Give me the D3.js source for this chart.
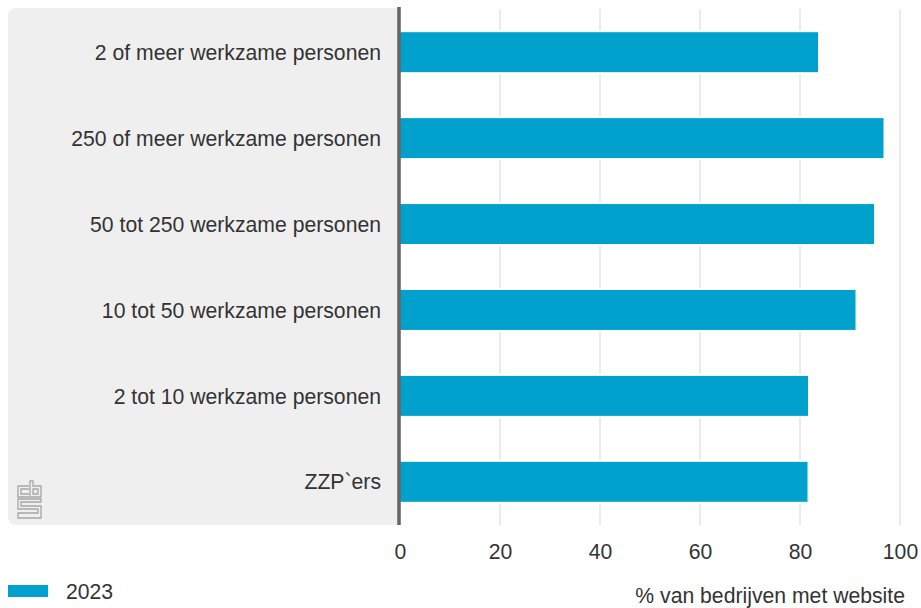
<!DOCTYPE html>
<html>
<head>
<meta charset="utf-8">
<script src="https://cdn.jsdelivr.net/npm/d3@7"></script>
<style>
  html, body { margin: 0; padding: 0; background: #fff; }
  svg { display: block; font-family: "Liberation Sans", Arial, sans-serif; }
</style>
</head>
<body>
<svg id="chart" width="921" height="608"></svg>
<script>
// Share of companies with a website, by company size (2023)
const categories = [
  "2 of meer werkzame personen",
  "250 of meer werkzame personen",
  "50 tot 250 werkzame personen",
  "10 tot 50 werkzame personen",
  "2 tot 10 werkzame personen",
  "ZZP`ers"
];
const values2023 = [83.6, 96.7, 94.8, 91.1, 81.6, 81.5];
const xTicks = [0, 20, 40, 60, 80, 100];
const seriesName = "2023";
const axisTitle = "% van bedrijven met website";

const svg = d3.select("#chart");
const plot = { left: 400, right: 900, top: 9, bottom: 525 };
const fontSize = 21.2;

const x = d3.scaleLinear().domain([0, 100]).range([plot.left, plot.right]);
const y = d3.scaleBand().domain(categories).range([plot.top, plot.bottom]).paddingInner(0.535).paddingOuter(0.27);

// label panel
svg.append("rect")
  .attr("x", 8).attr("y", 8)
  .attr("width", plot.left - 8 + 6).attr("height", plot.bottom - 8)
  .attr("rx", 8).attr("ry", 8)
  .attr("fill", "#efefef");

// gridlines
svg.append("g").selectAll("line").data(xTicks.filter(d => d > 0)).join("line")
  .attr("x1", d => x(d)).attr("x2", d => x(d))
  .attr("y1", plot.top).attr("y2", plot.bottom)
  .attr("stroke", "#ebebeb").attr("stroke-width", 2);

// white area right of the panel edge so the panel ends at the axis
svg.append("rect")
  .attr("x", plot.left + 1).attr("y", 7)
  .attr("width", 7).attr("height", plot.bottom - 6)
  .attr("fill", "#fff");

// bars
svg.append("g").selectAll("rect").data(categories).join("rect")
  .attr("x", x(0))
  .attr("y", d => y(d))
  .attr("width", (d, i) => x(values2023[i]) - x(0))
  .attr("height", y.bandwidth())
  .attr("fill", "#00a1cd")
  .attr("stroke", "#fff")
  .attr("stroke-width", 4)
  .style("paint-order", "stroke");

// zero axis line
svg.append("line")
  .attr("x1", x(0) - 1).attr("x2", x(0) - 1)
  .attr("y1", 7).attr("y2", plot.bottom)
  .attr("stroke", "#666").attr("stroke-width", 3.5);

// category labels
svg.append("g").selectAll("text").data(categories).join("text")
  .attr("x", 381)
  .attr("y", d => y(d) + y.bandwidth() / 2)
  .attr("dy", "0.36em")
  .attr("text-anchor", "end")
  .attr("font-size", fontSize)
  .attr("fill", "#333")
  .text(d => d);

// x axis tick labels
const xAxis = d3.axisBottom(x).tickValues(xTicks).tickSize(0).tickPadding(0).tickFormat(d3.format("d"));
const gx = svg.append("g").attr("transform", `translate(0, 559)`).call(xAxis);
gx.select(".domain").remove();
gx.selectAll("text")
  .attr("y", 0).attr("dy", 0)
  .attr("font-size", fontSize)
  .attr("font-family", "Liberation Sans, Arial, sans-serif")
  .attr("fill", "#333");

// axis title
svg.append("text")
  .attr("x", 905).attr("y", 603)
  .attr("text-anchor", "end")
  .attr("font-size", fontSize)
  .attr("fill", "#333")
  .text(axisTitle);

// legend
svg.append("rect")
  .attr("x", 8).attr("y", 585)
  .attr("width", 40).attr("height", 12)
  .attr("fill", "#00a1cd");
svg.append("text")
  .attr("x", 66).attr("y", 599)
  .attr("font-size", fontSize)
  .attr("fill", "#333")
  .text(seriesName);

// cbs logo (outlined letters)
const logo = svg.append("g")
  .attr("fill", "none")
  .attr("stroke", "#a6a6a6")
  .attr("stroke-width", 1.3);
// "c"
logo.append("path").attr("d", "M29,486 H18 V497 H29 M29,489 H21 V494 H29");
// "b"
logo.append("path").attr("d", "M30,481 V497 H41 V486 H33 V481 Z M33,489 H38 V494 H33 Z");
// "s"
logo.append("path").attr("d", "M41,499 H18 V509 H38 V513 H18 V518 H41 V506 H21 V502 H41 Z");
</script>
</body>
</html>
